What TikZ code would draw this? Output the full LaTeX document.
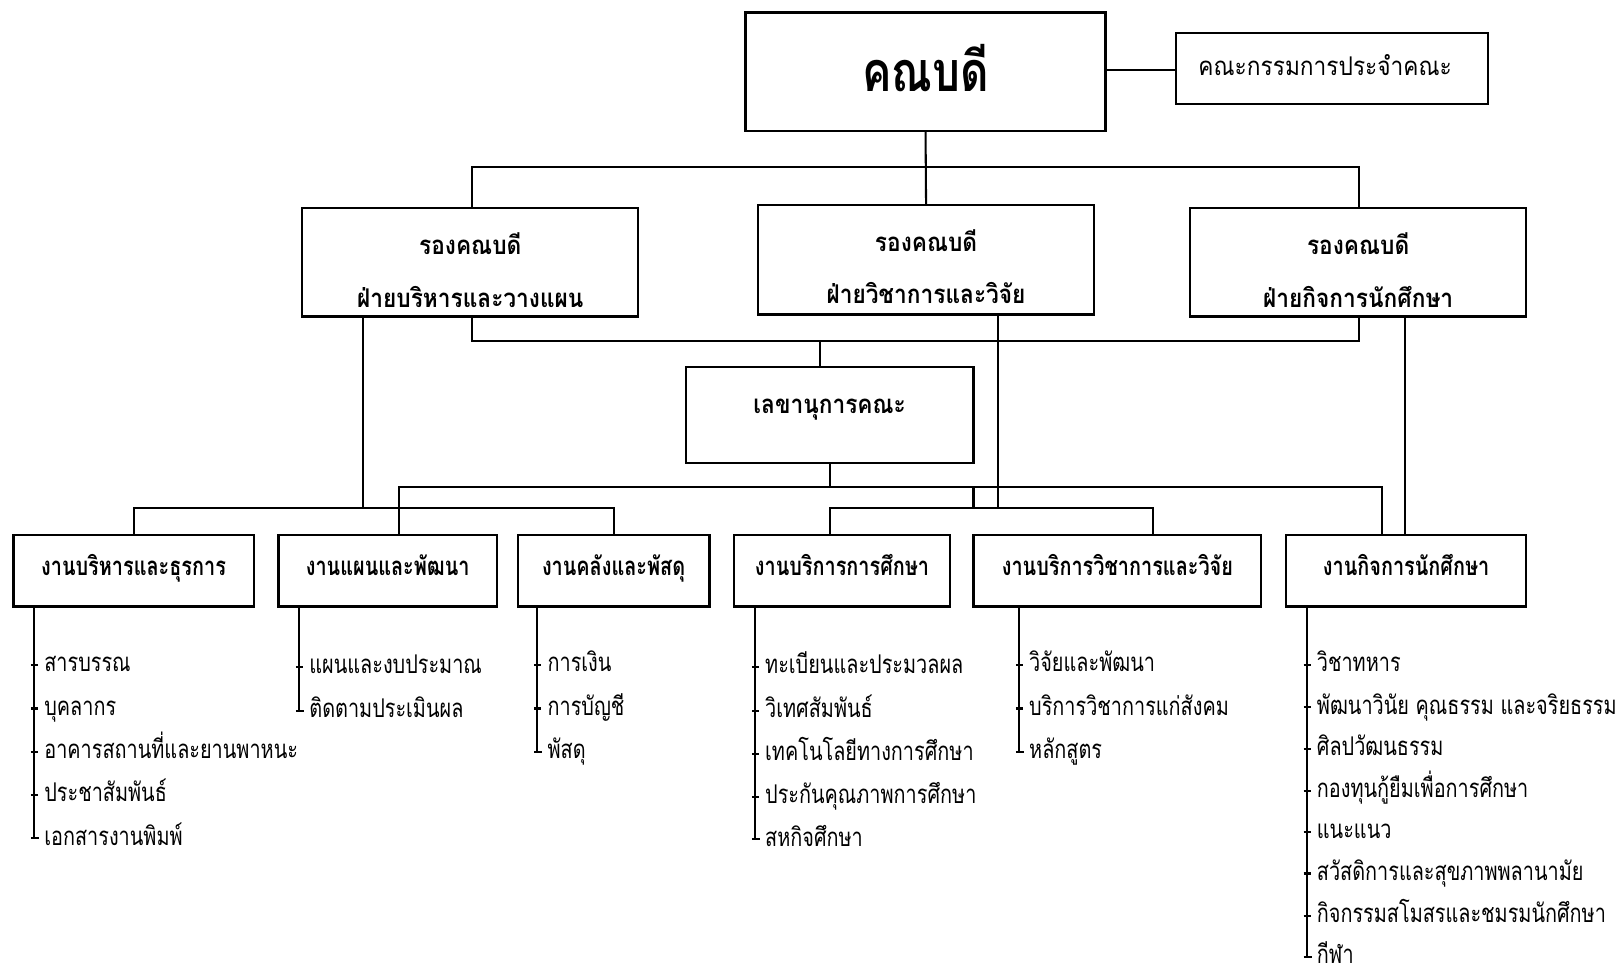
\documentclass[tikz,border=0pt]{standalone}
\usepackage{fontspec}
\newfontfamily\thai[Script=Thai,FakeStretch=0.88]{Loma}
\newfontfamily\thainarrow[Script=Thai,FakeStretch=0.77]{Loma}
\newfontfamily\thaibig[Script=Thai,FakeStretch=0.79]{Loma}
\begin{document}
\begin{tikzpicture}[x=0.5pt,y=-0.5pt,line width=1pt,
  box/.style={draw=black,line width=1.1pt,inner sep=0pt,fill=white},
  txt/.style={font=\thai\fontsize{12.5}{14}\selectfont,inner sep=0pt,anchor=base},
  btxt/.style={font=\thai\bfseries\fontsize{12.5}{14}\selectfont,inner sep=0pt,anchor=base},
  utxt/.style={font=\thainarrow\bfseries\fontsize{12.5}{14}\selectfont,inner sep=0pt,anchor=base},
  item/.style={font=\thainarrow\fontsize{12.5}{14}\selectfont,inner sep=0pt,anchor=base west}]
\useasboundingbox (0,0) rectangle (1568,948);
% top
\node[box,minimum width=174.5pt,minimum height=57.5pt] (dean) at (897.5,69.5) {};
\node[font=\thaibig\bfseries\fontsize{27}{30}\selectfont,inner sep=0pt,anchor=base] (deant) at (897.5,89) {คณบดี};
\node[box,minimum width=151.5pt,minimum height=34.5pt] (comm) at (1291.5,66.5) {};
\node[txt] (commt) at (1285,73) {คณะกรรมการประจำคณะ};
\draw (dean.east |- 0,68) -- (comm.west |- 0,68);
% vice deans
\node[box,minimum width=163pt,minimum height=52.5pt] (vp1) at (456,254.5) {};
\node[btxt] (vp1a) at (456,247) {รองคณบดี};
\node[btxt] (vp1b) at (456,298) {ฝ่ายบริหารและวางแผน};
\node[box,minimum width=163pt,minimum height=53pt] (vp2) at (898,252) {};
\node[btxt] (vp2a) at (898,244) {รองคณบดี};
\node[btxt] (vp2b) at (898,294) {ฝ่ายวิชาการและวิจัย};
\node[box,minimum width=163pt,minimum height=52.5pt] (vp3) at (1317,254.5) {};
\node[btxt] (vp3a) at (1317,247) {รองคณบดี};
\node[btxt] (vp3b) at (1317,298) {ฝ่ายกิจการนักศึกษา};
% secretary
\node[box,minimum width=139.5pt,minimum height=46.5pt] (sec) at (804.5,402.5) {};
\node[btxt] (sect) at (804.5,401) {เลขานุการคณะ};
% units
\foreach \n/\cx/\w/\t in {b1/129.5/116.5/งานบริหารและธุรการ,
                         b2/376/106/งานแผนและพัฒนา,
                         b3/595/93/งานคลังและพัสดุ,
                         b4/816.5/104.5/งานบริการการศึกษา,
                         b5/1083.5/139.5/งานบริการวิชาการและวิจัย,
                         b6/1363.5/116.5/งานกิจการนักศึกษา}{
  \node[box,minimum width=\w pt,minimum height=34.5pt] (\n) at (\cx,553.5) {};
  \node[utxt] (\n t) at (\cx,558) {\t};
}
% connectors top
\coordinate (t1) at (458,162);
\coordinate (t3) at (1318,162);
\draw (dean.south) -- (vp2.north);
\draw (vp1.north -| t1) |- (t3) -- (vp3.north -| t3);
\coordinate (u1) at (458,331);
\coordinate (u2) at (795,331);
\coordinate (u3) at (1318,331);
\draw (vp1.south -| u1) |- (u3) -- (vp3.south -| u3);
\draw (u2) -- (sec.north -| u2);
% left branch
\coordinate (g1) at (352,493);
\coordinate (gL) at (130,493);
\coordinate (gR) at (595,493);
\draw (vp1.south -| g1) -- (g1);
\draw (b1.north -| gL) |- (gR) -- (b3.north -| gR);
% secretary bus
\coordinate (s1) at (387,472);
\coordinate (s2) at (1340,472);
\coordinate (s3) at (944,493);
\draw (sec.south) -- (sec.south |- s1);
\draw (b2.north -| s1) |- (s2) -- (b6.north -| s2);
\draw (s3 |- s1) -- (s3);
% middle branch
\coordinate (m1) at (805,493);
\coordinate (m2) at (1118,493);
\coordinate (m3) at (968,493);
\draw (b4.north -| m1) |- (m2) -- (b5.north -| m2);
\draw (vp2.south -| m3) -- (m3);
% right
\coordinate (r1) at (1362,0);
\draw (vp3.south -| r1) -- (b6.north -| r1);
% lists
\newcommand{\thlist}[4]{% box, line x, last y, items (y/text)
  \draw (#1.south -| #2,0) -- (#2,#3) -- ++(5,0);
  \foreach \yy/\tt [count=\k] in {#4}{
    \draw (#2-3,\yy) -- (#2+4,\yy);
    \node[item] (#1i\k) at (#2+9,\yy+6.5) {\tt};
  }
}
\thlist{b1}{33}{813}{645/สารบรรณ,687/บุคลากร,729/อาคารสถานที่และยานพาหนะ,771/ประชาสัมพันธ์,813/เอกสารงานพิมพ์}
\thlist{b2}{290}{689}{647/แผนและงบประมาณ,689/ติดตามประเมินผล}
\thlist{b3}{521}{729}{645/การเงิน,687/การบัญชี,729/พัสดุ}
\thlist{b4}{732}{814}{647/ทะเบียนและประมวลผล,689/วิเทศสัมพันธ์,731/เทคโนโลยีทางการศึกษา,773/ประกันคุณภาพการศึกษา,814/สหกิจศึกษา}
\thlist{b5}{988}{729}{645/วิจัยและพัฒนา,687/บริการวิชาการแก่สังคม,729/หลักสูตร}
\thlist{b6}{1267}{928}{645/วิชาทหาร,686/พัฒนาวินัย คุณธรรม และจริยธรรม,726/ศิลปวัฒนธรรม,767/กองทุนกู้ยืมเพื่อการศึกษา,807/แนะแนว,847/สวัสดิการและสุขภาพพลานามัย,888/กิจกรรมสโมสรและชมรมนักศึกษา,928/กีฬา}
\end{tikzpicture}
\end{document}
